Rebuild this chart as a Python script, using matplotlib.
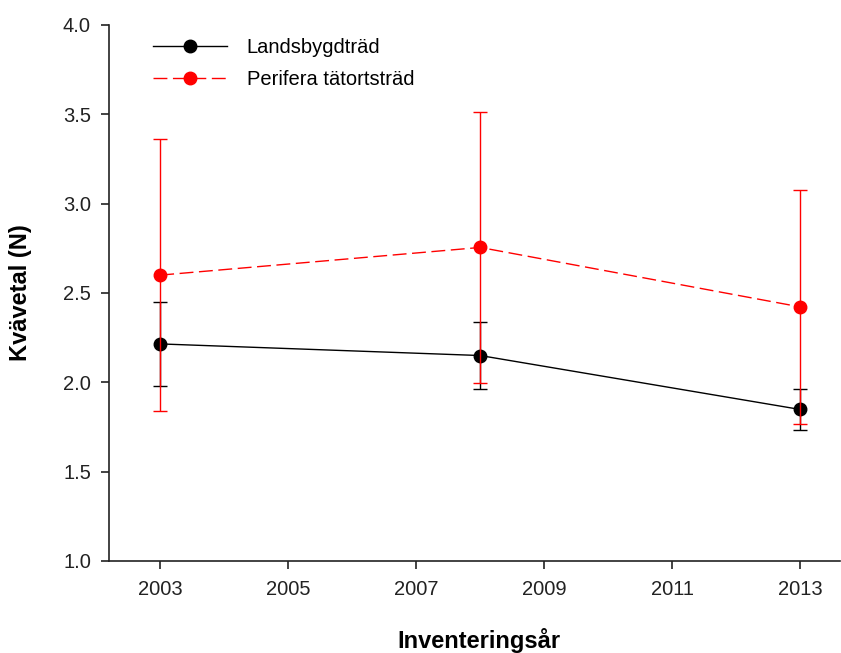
import matplotlib
matplotlib.use("Agg")
import matplotlib.pyplot as plt
from matplotlib.lines import Line2D

plt.rcParams['font.family'] = ['Liberation Sans', 'DejaVu Sans']

years = [2003, 2008, 2013]
landsbygd = [2.215, 2.150, 1.848]
landsbygd_err = [0.235, 0.190, 0.117]
perifera = [2.600, 2.755, 2.422]
perifera_err = [0.760, 0.757, 0.655]

series_labels = ["Landsbygdträd", "Perifera tätortsträd"]
xticks = [2003, 2005, 2007, 2009, 2011, 2013]
yticks = [1.0, 1.5, 2.0, 2.5, 3.0, 3.5, 4.0]

fig = plt.figure(figsize=(8.41, 6.53), dpi=100)
ax = fig.add_axes([109 / 841, 92 / 653, 731 / 841, 536 / 653])

ax.errorbar(years, landsbygd, yerr=landsbygd_err, color='black', lw=1.0,
            marker='o', ms=9, capsize=5, capthick=1.0, elinewidth=1.0, zorder=2)
ax.errorbar(years, perifera, yerr=perifera_err, color='#ff0000', lw=1.0,
            ls=(0, (10, 4)), marker='o', ms=9, capsize=5, capthick=1.0,
            elinewidth=1.0, zorder=3)

ax.set_xlim(2002.2, 2013.62)
ax.set_ylim(1.0, 4.0)
ax.set_xticks(xticks)
ax.set_xticklabels([str(y) for y in xticks])
ax.set_yticks(yticks)
ax.set_yticklabels([f"{v:.1f}" for v in yticks])

for side in ('top', 'right'):
    ax.spines[side].set_visible(False)
for side in ('left', 'bottom'):
    ax.spines[side].set_color('#222222')
    ax.spines[side].set_linewidth(1.2)

ax.tick_params(axis='both', direction='out', length=6, width=1.2,
               colors='#222222', labelsize=14.5, labelcolor='#222222')
ax.tick_params(axis='x', pad=8)
ax.tick_params(axis='y', pad=7)

ax.set_xlabel("Inventeringsår", fontsize=17, fontweight='bold')
ax.set_ylabel("Kvävetal (N)", fontsize=17, fontweight='bold')
ax.xaxis.set_label_coords(0.506, -0.125)
ax.yaxis.set_label_coords(-0.105, 0.5)

handles = [
    Line2D([], [], color='black', lw=1.0, marker='o', ms=9),
    Line2D([], [], color='#ff0000', lw=1.0, ls=(0, (10, 4)), marker='o', ms=9),
]
ax.legend(handles, series_labels, loc='upper left',
          bbox_to_anchor=(0.060, 0.975), frameon=False, fontsize=14.5,
          handlelength=3.7, handletextpad=0.95, labelspacing=0.65,
          borderpad=0, borderaxespad=0, numpoints=1)

fig.savefig("out.png", dpi=100)
